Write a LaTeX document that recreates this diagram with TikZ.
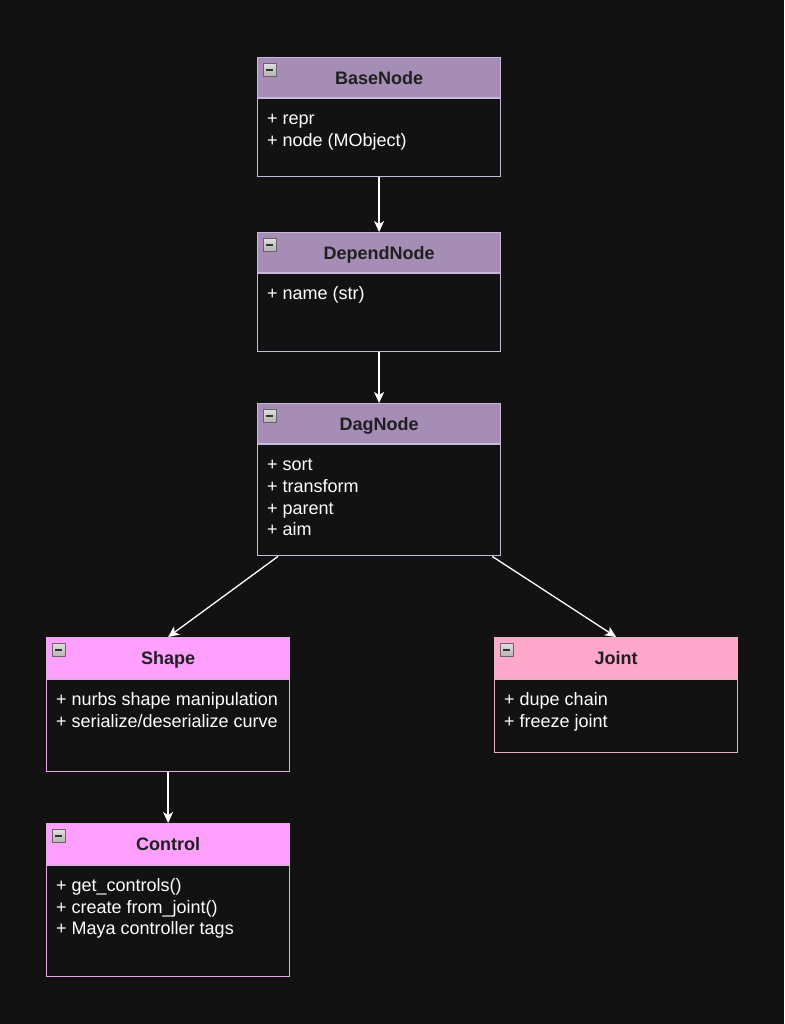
\documentclass[tikz,border=0pt]{standalone}
\usepackage{fontspec}
\setmainfont{Liberation Sans}
\usetikzlibrary{arrows.meta}
\definecolor{bg}{HTML}{121212}
\definecolor{dagfill}{HTML}{A58DB6}
\definecolor{dagline}{HTML}{C9B8DC}
\definecolor{shapefill}{HTML}{FFA0FF}
\definecolor{shapeline}{HTML}{E3A8E8}
\definecolor{jointfill}{HTML}{FFA8CC}
\definecolor{jointline}{HTML}{E6B2C2}
\tikzset{
  head/.style={draw, line width=1.2pt, minimum width=243pt, minimum height=40pt, anchor=north west, inner sep=0pt, text height=13pt, text depth=0pt, font=\bfseries\fontsize{18}{21}\selectfont, text=black!88},
  body/.style={draw, line width=1.2pt, minimum width=243pt, anchor=north west, inner sep=0pt, fill=bg},
  member/.style={anchor=base west, inner sep=0pt, text=white, font=\fontsize{18}{21}\selectfont},
  minbox/.style={draw=gray!80!black, anchor=north west, minimum size=13pt, inner sep=0pt, top color=gray!25, bottom color=gray!60, font=\fontsize{6}{6}\selectfont},
  inherit/.style={draw=white, line width=1.3pt, -{Stealth[length=11pt,width=10pt,inset=3pt]}}
}
\begin{document}
\begin{tikzpicture}[x=1pt,y=-1pt]
  \fill[bg] (0,0) rectangle (784,1024); %background
  \useasboundingbox (0,0) rectangle (784,1024);

  % BaseNode
  \node[head, fill=dagfill, draw=dagline] (base) at (257,57) {BaseNode};
  \node[body, draw=dagline, minimum height=78pt] (base-body) at (base.south west) {};
  \node[minbox] (base-min) at ([shift={(6,6)}]base.north west) {\color{black!80}\rule{7pt}{2pt}};
  \foreach \t [count=\i] in {+ repr, + node (MObject)}
    \node[member] (base-m\i) at ([shift={(10,5+21.5*\i)}]base.south west) {\t};

  % DependNode
  \node[head, fill=dagfill, draw=dagline] (depend) at (257,232) {DependNode};
  \node[body, draw=dagline, minimum height=78pt] (depend-body) at (depend.south west) {};
  \node[minbox] (depend-min) at ([shift={(6,6)}]depend.north west) {\color{black!80}\rule{7pt}{2pt}};
  \foreach \t [count=\i] in {+ name (str)}
    \node[member] (depend-m\i) at ([shift={(10,5+21.5*\i)}]depend.south west) {\t};

  % DagNode
  \node[head, fill=dagfill, draw=dagline] (dag) at (257,403) {DagNode};
  \node[body, draw=dagline, minimum height=111pt] (dag-body) at (dag.south west) {};
  \node[minbox] (dag-min) at ([shift={(6,6)}]dag.north west) {\color{black!80}\rule{7pt}{2pt}};
  \foreach \t [count=\i] in {+ sort, + transform, + parent, + aim}
    \node[member] (dag-m\i) at ([shift={(10,5+21.6*\i)}]dag.south west) {\t};

  % Shape
  \node[head, fill=shapefill, draw=shapeline, minimum height=41pt] (shape) at (46,637) {Shape};
  \node[body, draw=shapeline, minimum height=92pt] (shape-body) at (shape.south west) {};
  \node[minbox] (shape-min) at ([shift={(6,6)}]shape.north west) {\color{black!80}\rule{7pt}{2pt}};
  \foreach \t [count=\i] in {+ nurbs shape manipulation, + serialize/deserialize curve}
    \node[member] (shape-m\i) at ([shift={(10,5+21.5*\i)}]shape.south west) {\t};

  % Joint
  \node[head, fill=jointfill, draw=jointline, minimum height=41pt] (joint) at (494,637) {Joint};
  \node[body, draw=jointline, minimum height=73pt] (joint-body) at (joint.south west) {};
  \node[minbox] (joint-min) at ([shift={(6,6)}]joint.north west) {\color{black!80}\rule{7pt}{2pt}};
  \foreach \t [count=\i] in {+ dupe chain, + freeze joint}
    \node[member] (joint-m\i) at ([shift={(10,5+21.5*\i)}]joint.south west) {\t};

  % Control
  \node[head, fill=shapefill, draw=shapeline, minimum height=41pt] (control) at (46,823) {Control};
  \node[body, draw=shapeline, minimum height=111pt] (control-body) at (control.south west) {};
  \node[minbox] (control-min) at ([shift={(6,6)}]control.north west) {\color{black!80}\rule{7pt}{2pt}};
  \foreach \t [count=\i] in {+ get\_controls(), + create from\_joint(), + Maya controller tags}
    \node[member] (control-m\i) at ([shift={(10,5+21.5*\i)}]control.south west) {\t};

  % inheritance
  \draw[inherit] (base-body.south) -- (depend.north);
  \draw[inherit] (depend-body.south) -- (dag.north);
  \draw[inherit] ([xshift=21pt]dag-body.south west) -- (shape.north);
  \draw[inherit] ([xshift=-9pt]dag-body.south east) -- (joint.north);
  \draw[inherit] (shape-body.south) -- (control.north);
\end{tikzpicture}
\end{document}
